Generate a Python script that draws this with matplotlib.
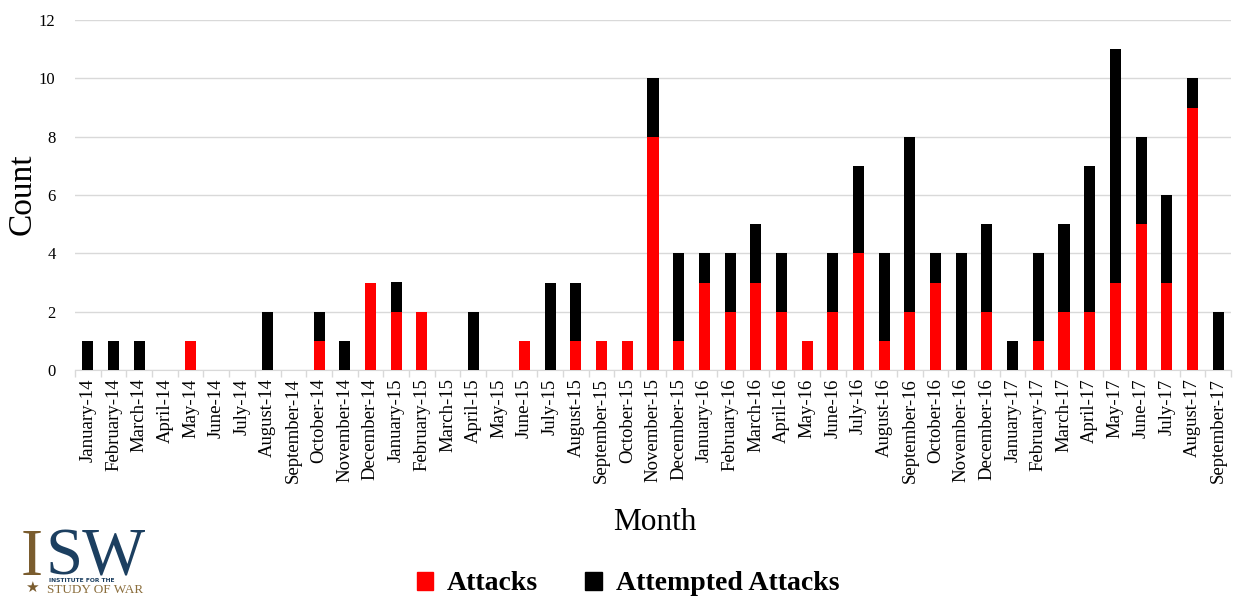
import matplotlib
matplotlib.use("Agg")
import matplotlib.pyplot as plt
from matplotlib.patches import Patch
import numpy as np

months = ["January-14", "February-14", "March-14", "April-14", "May-14", "June-14", "July-14",
          "August-14", "September-14", "October-14", "November-14", "December-14",
          "January-15", "February-15", "March-15", "April-15", "May-15", "June-15", "July-15",
          "August-15", "September-15", "October-15", "November-15", "December-15",
          "January-16", "February-16", "March-16", "April-16", "May-16", "June-16", "July-16",
          "August-16", "September-16", "October-16", "November-16", "December-16",
          "January-17", "February-17", "March-17", "April-17", "May-17", "June-17", "July-17",
          "August-17", "September-17"]
attacks = [0, 0, 0, 0, 1, 0, 0, 0, 0, 1, 0, 3,
           2, 2, 0, 0, 0, 1, 0, 1, 1, 1, 8, 1,
           3, 2, 3, 2, 1, 2, 4, 1, 2, 3, 0, 2,
           0, 1, 2, 2, 3, 5, 3, 9, 0]
attempted = [1, 1, 1, 0, 0, 0, 0, 2, 0, 1, 1, 0,
             1, 0, 0, 2, 0, 0, 3, 2, 0, 0, 2, 3,
             1, 2, 2, 2, 0, 2, 3, 3, 6, 1, 4, 3,
             1, 3, 3, 5, 8, 3, 3, 1, 2]
y_ticks = [0, 2, 4, 6, 8, 10, 12]

SERIF = ["Liberation Serif", "DejaVu Serif"]
plt.rcParams["font.family"] = SERIF

fig = plt.figure(figsize=(12.39, 5.99), dpi=100)
ax = fig.add_axes([75 / 1239, 1 - 370 / 599, (1231 - 75) / 1239, 350 / 599])

x = np.arange(len(months))
ax.bar(x, attacks, width=0.43, color="#ff0000", zorder=3)
ax.bar(x, attempted, width=0.43, bottom=attacks, color="#000000", zorder=3)

ax.set_xlim(-0.5, len(months) - 0.5)
ax.set_ylim(0, 12)
ax.set_yticks(y_ticks)
ax.set_yticklabels([str(t) for t in y_ticks], fontsize=12)
ax.yaxis.grid(True, color="#d9d9d9", linewidth=1, zorder=0)
ax.tick_params(axis="y", length=0, pad=14)

ax.set_xticks(x)
ax.set_xticklabels(months, rotation=90, fontsize=13.5)
ax.set_xticks(np.arange(-0.5, len(months), 1), minor=True)
ax.tick_params(axis="x", which="major", length=0, pad=6)
ax.tick_params(axis="x", which="minor", length=5, color="#d9d9d9", width=1)

for s in ["top", "right", "left"]:
    ax.spines[s].set_visible(False)
ax.spines["bottom"].set_color("#d9d9d9")

fig.text(22 / 1239, 1 - 194 / 599, "Count", fontsize=24, rotation=90, ha="center", va="center")
fig.text(655 / 1239, 1 - 523 / 599, "Month", fontsize=22.5, ha="center", va="center")

handles = [Patch(color="#ff0000", label="Attacks"), Patch(color="#000000", label="Attempted Attacks")]
leg = fig.legend(handles=handles, loc="center", bbox_to_anchor=(628 / 1239, 1 - 584 / 599), ncol=2,
                 frameon=False, prop={"family": SERIF, "size": 20, "weight": "bold"},
                 handlelength=0.6, handleheight=0.6, handletextpad=0.5, columnspacing=1.7)

# ISW logo
fig.text(21 / 1239, 1 - 575 / 599, "I", fontsize=48, color="#7a5c2e", ha="left", va="baseline",
         family=SERIF)
fig.text(45 / 1239, 1 - 575 / 599, "SW", fontsize=48, color="#1c3f60", ha="left", va="baseline",
         family=SERIF)
fig.text(49 / 1239, 1 - 580.5 / 599, "INSTITUTE FOR THE", fontsize=4.3, color="#1c3f60",
         ha="left", va="center", weight="bold", family=["DejaVu Sans"])
fig.text(47 / 1239, 1 - 590 / 599, "STUDY OF WAR", fontsize=9.5, color="#8a6d3b",
         ha="left", va="center", family=SERIF)
fig.text(32 / 1239, 1 - 587 / 599, "★", fontsize=11, color="#7a5c2e", ha="center", va="center",
         family=["DejaVu Sans"])

fig.savefig("out.png", dpi=100)
